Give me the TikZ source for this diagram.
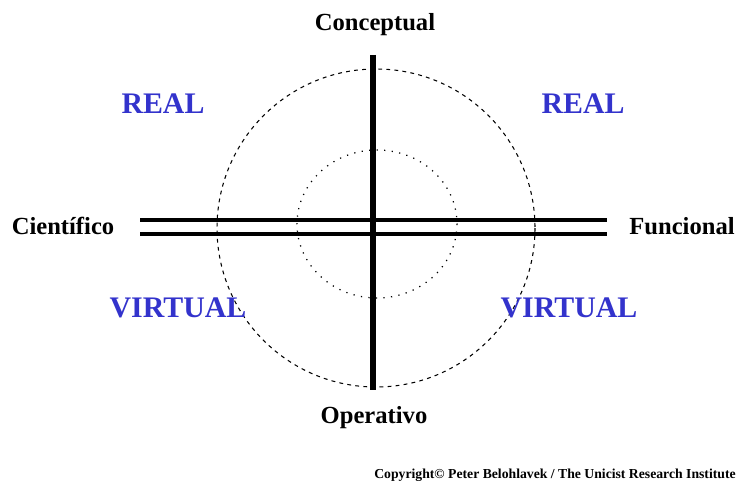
\documentclass[tikz,border=0pt]{standalone}
\usepackage{fontspec}
\setmainfont{Liberation Serif}
\usetikzlibrary{positioning, calc}
\definecolor{cblue}{HTML}{3333CC}
\definecolor{cblack}{HTML}{000000}
\tikzset{
  every picture/.style={font=\bfseries},
  axis/.style={draw=cblack, line width=3.4pt},
  rail/.style={draw=cblack, line width=2.8pt},
  pole/.style={font=\fontsize{14}{16}\selectfont\bfseries, text=cblack},
  zone/.style={font=\fontsize{17}{20}\selectfont\bfseries, text=cblue},
  outer/.style={draw=cblack, line width=0.6pt, dash pattern=on 2.2pt off 2.4pt},
  inner/.style={draw=cblack, line width=0.7pt, dash pattern=on 0.7pt off 3.6pt},
}

\begin{document}
\begin{tikzpicture}[x=0.02cm, y=-0.02cm]
  \useasboundingbox (0,0) rectangle (739,486);
  % circles
  \draw[outer] (376,228) ellipse [x radius=159, y radius=159];
  \draw[inner] (377,224) ellipse [x radius=80, y radius=74];
  % axes
  \coordinate (top) at (373,55);
  \coordinate (bot) at (373,390);
  \coordinate (l1) at (140,220);
  \coordinate (r1) at (607,220);
  \coordinate (l2) at (140,234);
  \coordinate (r2) at (607,234);
  \draw[rail] (l1) -- (r1);
  \draw[rail] (l2) -- (r2);
  \draw[axis] (top) -- (bot);
  % labels
  \node[pole] (concep) at (375,25) {Conceptual};
  \node[pole] (opera) at (374,418) {Operativo};
  \node[pole] (cient) at (63,226) {Científico};
  \node[pole] (func) at (682,226) {Funcional};
  \node[zone] (realL) at (163,104) {REAL};
  \node[zone] (realR) at (583,104) {REAL};
  \node[zone] (virtL) at (178,308) {VIRTUAL};
  \node[zone] (virtR) at (569,308) {VIRTUAL};
  \node[font=\fontsize{7.8}{9}\selectfont\bfseries, anchor=east, inner sep=0pt] (copy) at (736,475) {Copyright© Peter Belohlavek / The Unicist Research Institute};
\end{tikzpicture}
\end{document}
